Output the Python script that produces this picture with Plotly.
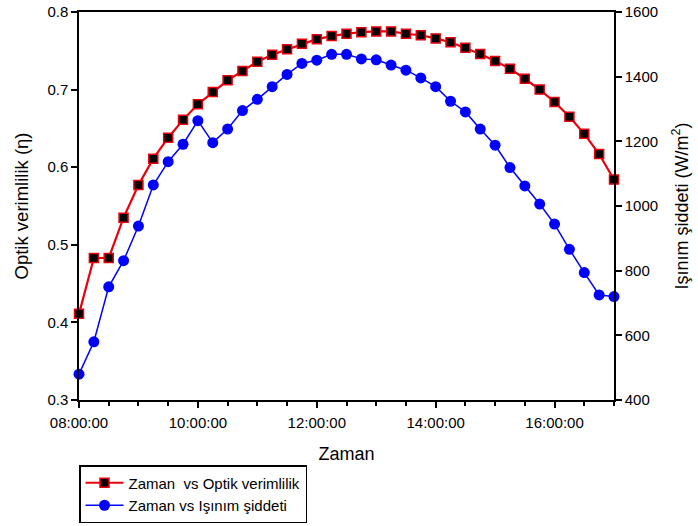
import plotly.graph_objects as go

times = ["08:00", "08:15", "08:30", "08:45", "09:00", "09:15", "09:30", "09:45",
         "10:00", "10:15", "10:30", "10:45", "11:00", "11:15", "11:30", "11:45",
         "12:00", "12:15", "12:30", "12:45", "13:00", "13:15", "13:30", "13:45",
         "14:00", "14:15", "14:30", "14:45", "15:00", "15:15", "15:30", "15:45",
         "16:00", "16:15", "16:30", "16:45", "17:00"]

optik_verimlilik = [0.411, 0.483, 0.483, 0.535, 0.577, 0.611, 0.638, 0.661,
                    0.681, 0.697, 0.712, 0.724, 0.736, 0.745, 0.752, 0.759,
                    0.765, 0.769, 0.772, 0.774, 0.775, 0.775, 0.772, 0.770,
                    0.766, 0.761, 0.754, 0.746, 0.737, 0.727, 0.714, 0.700,
                    0.684, 0.665, 0.643, 0.617, 0.584]

isinim_siddeti = [480, 580, 750, 831, 938, 1065, 1137, 1191,
                  1264, 1196, 1238, 1295, 1330, 1369, 1407, 1441,
                  1451, 1469, 1469, 1455, 1452, 1436, 1420, 1396,
                  1369, 1324, 1291, 1238, 1188, 1119, 1062, 1006,
                  944, 866, 794, 725, 720]

x = ["2024-01-01 " + t + ":00" for t in times]

FONT = "Liberation Sans, Arial, sans-serif"

fig = go.Figure()
fig.add_trace(go.Scatter(
    x=x, y=optik_verimlilik, name="Zaman  vs Optik verimlilik",
    mode="lines+markers",
    line=dict(color="#e8000b", width=2.2),
    marker=dict(symbol="square", size=9, color="black",
                line=dict(color="#e8000b", width=1.5)),
    cliponaxis=False, yaxis="y"))
fig.add_trace(go.Scatter(
    x=x, y=isinim_siddeti, name="Zaman vs Işınım şiddeti",
    mode="lines+markers",
    line=dict(color="#0000ff", width=1.5),
    marker=dict(symbol="circle", size=11, color="#0000ff"),
    cliponaxis=False, yaxis="y2"))

axis_common = dict(showline=True, linecolor="black", linewidth=1.5,
                   ticks="outside", tickcolor="black", ticklen=6, tickwidth=1.5,
                   showgrid=False, zeroline=False, automargin=False,
                   tickfont=dict(family=FONT, size=15, color="black"))

PLOT_H = 388
fig.update_layout(
    width=698, height=526,
    margin=dict(l=79, r=84, t=12, b=126, autoexpand=False),
    paper_bgcolor="white", plot_bgcolor="white",
    font=dict(family=FONT, color="black"),
    showlegend=True,
    legend=dict(x=0.0, y=-(465 - 400) / PLOT_H, xanchor="left", yanchor="top",
                bordercolor="black", borderwidth=1.5, bgcolor="white",
                font=dict(family=FONT, size=15, color="black"),
                tracegroupgap=0, itemwidth=38),
    xaxis=dict(**axis_common, type="date",
               range=["2024-01-01 08:00:00", "2024-01-01 17:00:00"],
               tick0="2024-01-01 08:00:00", dtick=7200000,
               tickformat="%H:%M:%S", mirror=True, ticklabelstandoff=2,
               minor=dict(dtick=1800000, ticks="outside", ticklen=4,
                          tickcolor="black", tickwidth=1.5),
               title=dict(text="Zaman", font=dict(family=FONT, size=18),
                          standoff=18)),
    yaxis=dict(**axis_common, range=[0.3, 0.8], dtick=0.1, tickformat=".1f",
               title=dict(text="Optik verimlilik (η)",
                          font=dict(family=FONT, size=18.5), standoff=14)),
    yaxis2=dict(**axis_common, range=[400, 1600], dtick=200, overlaying="y",
                side="right", anchor="x",
                title=dict(text="Işınım şiddeti (W/m<sup>2</sup>)",
                           font=dict(family=FONT, size=18), standoff=18)),
)

fig.write_html("out.html", config={"displayModeBar": False},
               post_script="document.body.style.margin='0';document.body.style.padding='0';")
